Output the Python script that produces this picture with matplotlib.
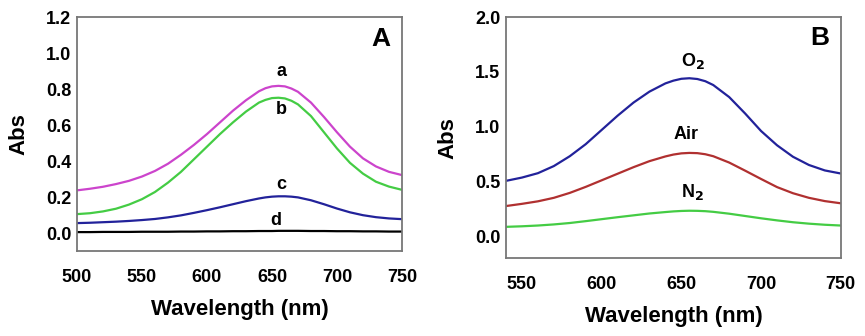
import matplotlib.pyplot as plt

# ---------------- datos panel A ----------------
wl_a = [500, 510, 520, 530, 540, 550, 560, 570, 580, 590, 600, 610, 620,
        630, 640, 645, 650, 655, 660, 665, 670, 680, 690, 700, 710, 720, 730, 740, 750]
abs_a = [.237, .246, .257, .272, .290, .314, .345, .385, .435, .49, .55, .615, .68,
         .738, .788, .805, .815, .818, .815, .803, .785, .725, .645, .56, .48, .415, .37, .34, .322]
abs_b = [.105, .11, .12, .135, .158, .188, .228, .28, .34, .41, .48, .55, .615,
         .675, .725, .74, .75, .752, .748, .735, .715, .65, .56, .47, .39, .33, .285, .258, .24]
abs_c = [.055, .057, .06, .063, .067, .072, .078, .087, .098, .112, .127, .143, .16,
         .177, .192, .198, .202, .204, .204, .202, .198, .182, .16, .136, .115, .099, .088, .081, .077]
abs_d = [.005, .005, .006, .006, .006, .007, .007, .007, .008, .008, .009, .009, .010,
         .010, .011, .011, .011, .012, .012, .012, .012, .011, .011, .010, .010, .009, .009, .008, .008]

# ---------------- datos panel B ----------------
wl_b = [540, 550, 560, 570, 580, 590, 600, 610, 620, 630, 640, 645,
        650, 655, 660, 665, 670, 680, 690, 700, 710, 720, 730, 740, 750]
abs_o2 = [.505, .535, .575, .64, .73, .84, .97, 1.1, 1.22, 1.32, 1.395, 1.42,
          1.437, 1.442, 1.435, 1.415, 1.38, 1.27, 1.12, .96, .83, .725, .65, .6, .572]
abs_air = [.275, .295, .318, .35, .395, .45, .51, .57, .63, .685, .728, .745,
           .756, .76, .758, .748, .73, .672, .598, .522, .448, .392, .35, .32, .30]
abs_n2 = [.085, .09, .097, .107, .12, .137, .155, .173, .19, .207, .22, .226,
          .23, .232, .231, .228, .222, .205, .184, .163, .144, .127, .114, .104, .097]

plt.rcParams['font.family'] = ['Liberation Sans', 'DejaVu Sans']
plt.rcParams['font.weight'] = 'bold'

fig = plt.figure(figsize=(8.65, 3.36), dpi=100)
axA = fig.add_axes([0.089, 0.253, 0.3757, 0.696])
axB = fig.add_axes([0.585, 0.232, 0.387, 0.717])

lw = 1.6
estilo = dict(lw=lw, solid_joinstyle='round', solid_capstyle='round')
axA.plot(wl_a, abs_a, color='#cc44cc', **estilo)
axA.plot(wl_a, abs_b, color='#44cc44', **estilo)
axA.plot(wl_a, abs_c, color='#22229a', **estilo)
axA.plot(wl_a, abs_d, color='black', **estilo)
axA.set_xlim(500, 750)
axA.set_ylim(-0.1, 1.2)
axA.set_xticks([500, 550, 600, 650, 700, 750])
axA.set_yticks([0.0, 0.2, 0.4, 0.6, 0.8, 1.0, 1.2])
axA.set_yticklabels(['0.0', '0.2', '0.4', '0.6', '0.8', '1.0', '1.2'])
for t, x, y in [('a', 657, 0.9), ('b', 657, 0.685), ('c', 657, 0.27), ('d', 653, 0.068)]:
    axA.text(x, y, t, ha='center', va='center', fontsize=13, fontweight='bold')
axA.text(734, 1.08, 'A', ha='center', va='center', fontsize=19, fontweight='bold')

axB.plot(wl_b, abs_o2, color='#22229a', **estilo)
axB.plot(wl_b, abs_air, color='#b03030', **estilo)
axB.plot(wl_b, abs_n2, color='#44cc44', **estilo)
axB.set_xlim(540, 750)
axB.set_ylim(-0.2, 2.0)
axB.set_xticks([550, 600, 650, 700, 750])
axB.set_yticks([0.0, 0.5, 1.0, 1.5, 2.0])
axB.set_yticklabels(['0.0', '0.5', '1.0', '1.5', '2.0'])
axB.text(657, 1.6, r'O$_\mathbf{2}$', ha='center', va='center', fontsize=13, fontweight='bold')
axB.text(653, 0.93, 'Air', ha='center', va='center', fontsize=13, fontweight='bold')
axB.text(657, 0.40, r'N$_\mathbf{2}$', ha='center', va='center', fontsize=13, fontweight='bold')
axB.text(737, 1.81, 'B', ha='center', va='center', fontsize=19, fontweight='bold')

for ax in (axA, axB):
    for s in ax.spines.values():
        s.set_color('#777777')
        s.set_linewidth(1.3)
    ax.tick_params(length=0, labelsize=13)
    ax.tick_params(axis='x', pad=13)
    ax.tick_params(axis='y', pad=4)
    ax.set_xlabel('Wavelength (nm)', fontsize=16, fontweight='bold', labelpad=9)
    ax.set_ylabel('Abs', fontsize=16, fontweight='bold', labelpad=12)

fig.savefig('out.png', dpi=100)
